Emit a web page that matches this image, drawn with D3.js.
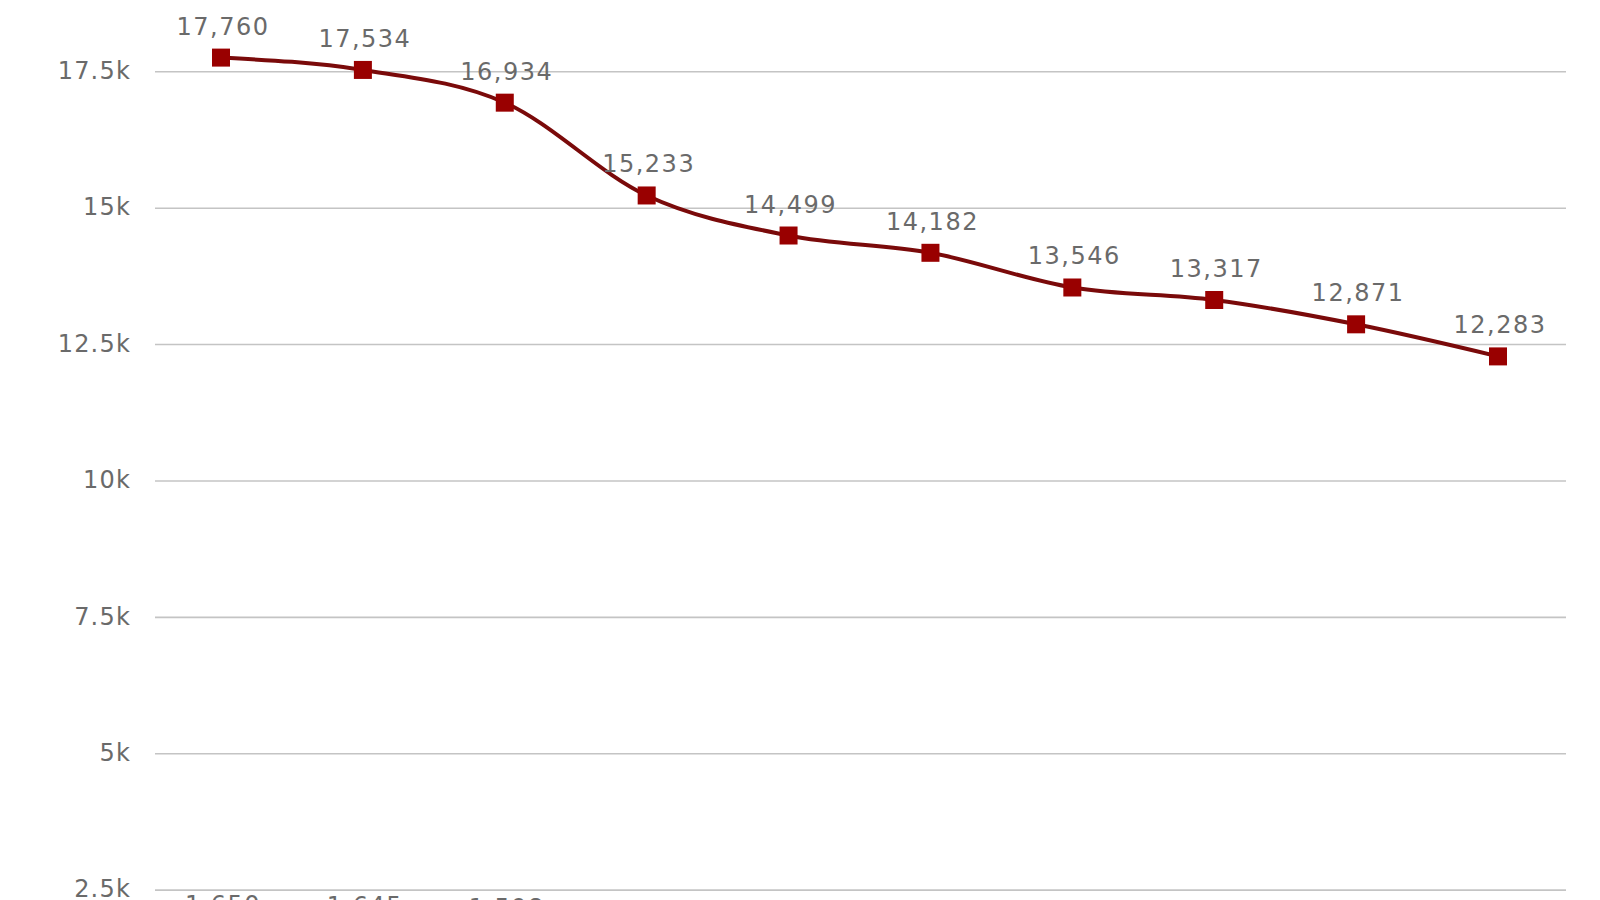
<!DOCTYPE html>
<html>
<head>
<meta charset="utf-8">
<script src="https://cdn.jsdelivr.net/npm/d3@7"></script>
<style>
    html, body { margin: 0; padding: 0; background: #fff; }
    svg { display: block; }
</style>
</head>
<body>
<div id="chart"></div>
<script>
// Dữ liệu
const categories = ["1", "2", "3", "4", "5", "6", "7", "8", "9", "10"];
const seriesTop = [17760, 17534, 16934, 15233, 14499, 14182, 13546, 13317, 12871, 12283];
const seriesBottom = [1650, 1645, 1598, 1520, 1480, 1455, 1410, 1390, 1352, 1300];
const yTicks = [2500, 5000, 7500, 10000, 12500, 15000, 17500];

const width = 1600, height = 900;

const svg = d3.select("#chart")
    .append("svg")
    .attr("width", width)
    .attr("height", height);

// Thang đo
const x = d3.scalePoint()
    .domain(categories)
    .range([221, 1498]);

const y = d3.scaleLinear()
    .domain([0, 20000])
    .range([1026.5, -64.6]);

const gridLeft = 155, gridRight = 1566;

// Lưới ngang
svg.append("g")
    .selectAll("line")
    .data(yTicks)
    .enter()
    .append("line")
    .attr("x1", gridLeft)
    .attr("x2", gridRight)
    .attr("y1", d => y(d))
    .attr("y2", d => y(d))
    .attr("stroke", "#c4c4c4")
    .attr("stroke-width", 1.6);

// Nhãn trục Y
const fmt = d3.format("~s");
svg.append("g")
    .selectAll("text")
    .data(yTicks)
    .enter()
    .append("text")
    .attr("x", 131)
    .attr("y", d => y(d))
    .attr("dy", "0.3em")
    .attr("text-anchor", "end")
    .style("font-family", "DejaVu Sans")
    .style("font-size", "24px")
    .style("letter-spacing", "1.2px")
    .style("fill", "#6a6a6a")
    .text(d => fmt(d));

// Vẽ từng chuỗi
const line = d3.line()
    .x((d, i) => x(categories[i]))
    .y(d => y(d))
    .curve(d3.curveMonotoneX);

function drawSeries(values, lineColor, markColor) {
    const g = svg.append("g");
    g.append("path")
        .datum(values)
        .attr("d", line)
        .attr("fill", "none")
        .attr("stroke", lineColor)
        .attr("stroke-width", 4);

    g.selectAll("rect")
        .data(values)
        .enter()
        .append("rect")
        .attr("x", (d, i) => x(categories[i]) - 9)
        .attr("y", d => y(d) - 9)
        .attr("width", 18)
        .attr("height", 18)
        .attr("fill", markColor);

    g.selectAll("text")
        .data(values)
        .enter()
        .append("text")
        .attr("x", (d, i) => x(categories[i]) + 2)
        .attr("y", d => y(d) - 23)
        .attr("text-anchor", "middle")
        .style("font-family", "DejaVu Sans")
        .style("font-size", "24px")
        .style("letter-spacing", "1.5px")
        .style("fill", "#6a6a6a")
        .text(d => d3.format(",")(d));
}

drawSeries(seriesTop, "#7a0a0a", "#990000");
drawSeries(seriesBottom, "#1f4e8c", "#2a5ea8");
</script>
</body>
</html>
